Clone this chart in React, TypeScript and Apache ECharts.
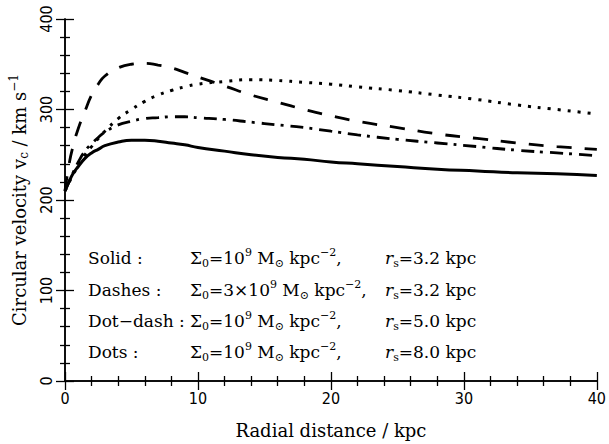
import React, { useEffect, useRef } from "react";
import * as echarts from "echarts";

const xValues = [0, 0.3, 0.6, 1, 1.5, 2, 2.5, 3, 4, 5, 6, 7, 8, 9, 10, 12, 14, 16, 18, 20, 22, 25, 28, 31, 34, 37, 40];
const solidV = [210, 220, 229, 237, 246, 252, 256, 260, 264, 266, 266, 265, 263, 261, 258, 254, 250, 247, 245, 242, 240, 237, 234, 232, 230, 229, 227];
const dashedV = [210, 239, 259, 279, 298, 316, 328, 337, 346, 350, 351, 349, 346, 341, 336, 326, 316, 308, 300, 293, 287, 280, 273, 268, 263, 259, 256];
const dotDashV = [210, 220, 230, 242, 254, 262, 269, 275, 283, 287, 290, 291, 292, 292, 291, 289, 286, 283, 280, 276, 272, 267, 263, 259, 255, 252, 249];
const dottedV = [210, 219, 228, 238, 250, 259, 268, 276, 290, 300, 309, 316, 321, 325, 328, 331, 333, 332, 330, 328, 325, 321, 316, 311, 305, 300, 295];

const legendNames = ["Solid :", "Dashes :", "Dot\u2212dash :", "Dots :"];
const legendSigma = [
  "{b|\u03A3}{sub|0}{b|=10}{sup|9}{b| M}{sub|\u2299}{b| kpc}{sup|\u22122}{b|,}",
  "{b|\u03A3}{sub|0}{b|=3\u00D710}{sup|9}{b| M}{sub|\u2299}{b| kpc}{sup|\u22122}{b|,}",
  "{b|\u03A3}{sub|0}{b|=10}{sup|9}{b| M}{sub|\u2299}{b| kpc}{sup|\u22122}{b|,}",
  "{b|\u03A3}{sub|0}{b|=10}{sup|9}{b| M}{sub|\u2299}{b| kpc}{sup|\u22122}{b|,}",
];
const legendRs = ["3.2", "3.2", "5.0", "8.0"];

const SERIF = "'DejaVu Serif', serif";
const NUM = "'Liberation Sans Narrow', 'DejaVu Sans Condensed', 'Liberation Sans', sans-serif";

const makeRich = (size: number, sub: number) => ({
  b: { fontFamily: SERIF, fontSize: size, color: "#000", lineHeight: 22, verticalAlign: "middle" },
  it: { fontFamily: SERIF, fontSize: size, fontStyle: "italic", color: "#000", lineHeight: 22, verticalAlign: "middle" },
  sub: { fontFamily: SERIF, fontSize: sub, color: "#000", lineHeight: 11, verticalAlign: "bottom" },
  sup: { fontFamily: SERIF, fontSize: sub, color: "#000", lineHeight: 11, verticalAlign: "top" },
});

export default function App() {
  const ref = useRef<HTMLDivElement>(null);
  useEffect(() => {
    if (!ref.current) return;
    const chart = echarts.init(ref.current, null, { renderer: "svg" });
    const mk = (ys: number[]) => xValues.map((x, i) => [x, ys[i]]);
    const axisLine = { lineStyle: { color: "#000", width: 1.5 } };
    const tick = { inside: true, length: 9, lineStyle: { color: "#000", width: 1.3 } };
    const minor = { show: true, splitNumber: 5, length: 5, lineStyle: { color: "#000", width: 1.3 } };
    const legRich = makeRich(17, 11);
    const rowY = [258, 290, 321, 352];
    const graphics: any[] = [];
    rowY.forEach((y, i) => {
      graphics.push({
        type: "text", x: 88, y,
        style: { text: legendNames[i], font: `17px ${SERIF}`, fill: "#000", verticalAlign: "middle" },
      });
      graphics.push({
        type: "text", x: 190, y,
        style: { text: legendSigma[i], rich: legRich, fill: "#000", verticalAlign: "middle" },
      });
      graphics.push({
        type: "text", x: 385, y,
        style: { text: `{it|r}{sub|s}{b|=${legendRs[i]} kpc}`, rich: legRich, fill: "#000", verticalAlign: "middle" },
      });
    });
    const lineBase = { type: "line", showSymbol: false, smooth: true, silent: true };
    chart.setOption({
      animation: false,
      backgroundColor: "#fff",
      grid: { left: 61, right: 12, top: 19, bottom: 63 },
      xAxis: [
        {
          type: "value", min: 0, max: 40, interval: 10, position: "bottom",
          axisLine, axisTick: tick, minorTick: minor, splitLine: { show: false },
          axisLabel: { color: "#000", fontFamily: NUM, fontSize: 16, margin: 9 },
          name: "Radial distance / kpc", nameLocation: "middle", nameGap: 40,
          nameTextStyle: { fontFamily: SERIF, fontSize: 18, color: "#000" },
        },
        {
          type: "value", min: 0, max: 40, interval: 10, position: "top",
          axisLine, axisTick: tick, minorTick: minor, splitLine: { show: false },
          axisLabel: { show: false },
        },
      ],
      yAxis: [
        {
          type: "value", min: 0, max: 400, interval: 100, position: "left",
          axisLine, axisTick: tick, minorTick: minor, splitLine: { show: false },
          axisLabel: { color: "#000", fontFamily: NUM, fontSize: 16, rotate: 90, margin: 11 },
          name: "{b|Circular velocity v}{sub|c}{b| / km s}{sup|\u22121}",
          nameLocation: "middle", nameGap: 35,
          nameTextStyle: { rich: makeRich(18, 12) },
        },
        {
          type: "value", min: 0, max: 400, interval: 100, position: "right",
          axisLine, axisTick: tick, minorTick: minor, splitLine: { show: false },
          axisLabel: { show: false },
        },
      ],
      series: [
        { ...lineBase, name: "Solid", data: mk(solidV), lineStyle: { color: "#000", width: 3, type: "solid" } },
        { ...lineBase, name: "Dashes", data: mk(dashedV), lineStyle: { color: "#000", width: 2.8, type: [15, 13], cap: "butt" } },
        { ...lineBase, name: "Dot-dash", data: mk(dotDashV), lineStyle: { color: "#000", width: 2.8, type: [13, 6, 3, 7], cap: "butt" } },
        { ...lineBase, name: "Dots", data: mk(dottedV), lineStyle: { color: "#000", width: 3, type: [3, 7], cap: "butt" } },
      ],
      graphic: graphics,
    });
    return () => chart.dispose();
  }, []);
  return <div ref={ref} style={{ width: 609, height: 444, position: "absolute", left: 0, top: 0 }} />;
}
